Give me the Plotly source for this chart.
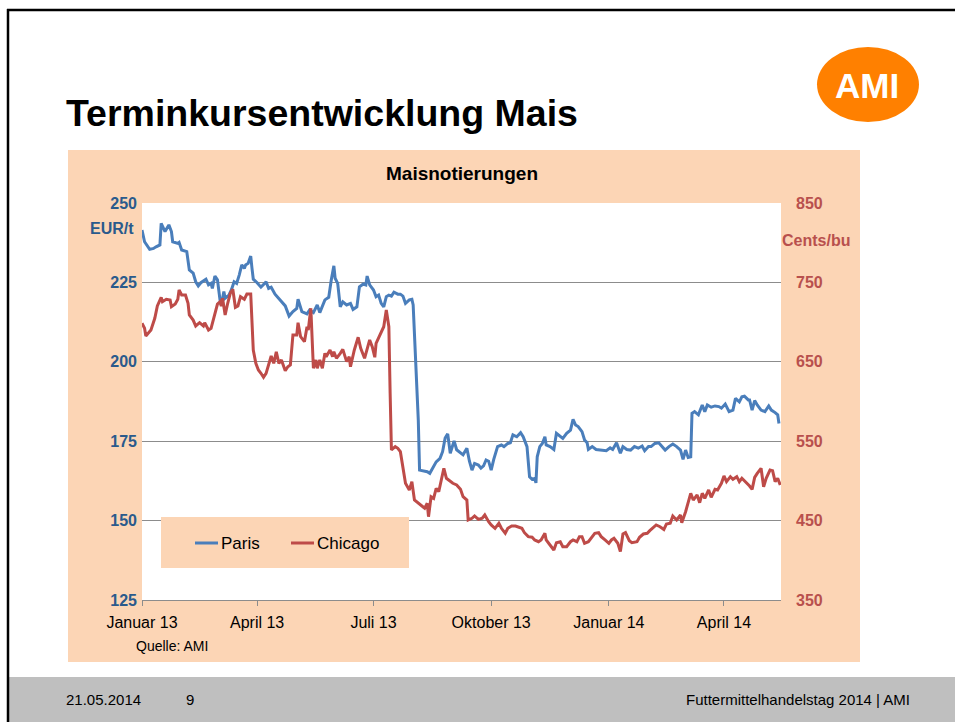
import pandas as pd
import plotly.graph_objects as go

# ---------------- data ----------------
start_date = "2013-01-01"

paris_day = [0, 2, 6, 9, 11, 14, 15, 18, 21, 23, 24, 28, 29, 31, 35, 36, 37, 40, 42, 44,
             46, 50, 52, 54, 55, 57, 59, 61, 62, 64, 65, 68, 70, 72, 74, 76, 78, 80, 81, 83,
             85, 86, 87, 90, 93, 96, 97, 99, 101, 104, 108, 112, 115, 118, 121, 122, 125, 129, 131, 134,
             137, 139, 143, 146, 148, 150, 151, 153, 155, 157, 160, 163, 165, 168, 170, 173, 175, 176, 178, 181,
             183, 185, 187, 189, 191, 193, 195, 197, 200, 202, 204, 206, 209, 211, 212, 214, 216, 217, 220, 223,
             225, 228, 230, 233, 235, 237, 239, 241, 244, 246, 249, 251, 254, 256, 258, 260, 263, 265, 267, 269,
             271, 273, 275, 278, 281, 283, 286, 288, 290, 293, 296, 298, 301, 302, 303, 305, 307, 308, 309, 311,
             313, 315, 316, 319, 322, 324, 327, 329, 332, 335, 337, 339, 341, 344, 346, 348, 349, 352, 355, 359,
             363, 366, 368, 371, 374, 376, 379, 382, 385, 388, 391, 393, 396, 398, 401, 404, 407, 409, 412, 415,
             418, 421, 423, 425, 427, 429, 430, 432, 435, 438, 440, 442, 445, 448, 451, 453, 456, 459, 462, 464,
             467, 469, 471, 474, 475, 477, 479, 481, 484, 487, 490, 492, 495, 497, 498]
paris_eur_t = [241.5, 237.8, 235.4, 235.7, 236.2, 236.8, 243.6, 241.0, 243.1, 241.0, 237.8, 237.3, 237.6, 235.2, 234.7, 231.5, 228.9, 227.9, 225.2, 223.9,
               224.9, 226.0, 224.2, 224.7, 223.1, 227.0, 225.8, 219.5, 217.9, 222.1, 220.0, 221.0, 222.8, 225.2, 224.7, 227.3, 230.5, 229.4, 230.5, 231.0,
               233.3, 229.4, 226.0, 224.9, 223.5, 224.7, 225.2, 223.1, 223.5, 221.3, 219.5, 217.6, 214.4, 215.8, 216.8, 219.7, 215.8, 215.1, 216.3, 215.5,
               217.9, 215.5, 219.5, 220.3, 225.8, 230.2, 226.3, 224.7, 217.3, 218.9, 217.9, 218.4, 216.5, 217.3, 223.6, 224.5, 224.2, 227.0, 224.2, 222.6,
               220.5, 221.0, 218.4, 217.3, 220.5, 221.0, 220.7, 221.9, 221.3, 221.3, 220.7, 218.4, 219.5, 219.7, 217.9, 200.6, 181.7, 165.9, 165.7, 165.4,
               164.9, 166.8, 168.5, 169.6, 171.7, 176.0, 177.3, 171.2, 175.1, 172.3, 171.2, 170.7, 172.8, 168.7, 165.9, 168.0, 167.5, 166.5, 167.2, 169.1,
               168.7, 165.9, 169.3, 173.3, 173.8, 173.3, 174.3, 174.5, 177.0, 176.4, 177.7, 176.4, 173.3, 168.0, 163.8, 163.0, 163.3, 161.9, 170.1, 173.3,
               174.3, 176.4, 173.8, 173.3, 172.4, 177.5, 176.4, 175.9, 177.5, 178.5, 181.9, 180.1, 179.6, 178.0, 175.4, 174.5, 172.4, 173.3, 172.4, 172.2,
               172.0, 172.9, 172.4, 174.5, 171.2, 173.3, 172.4, 172.2, 173.3, 172.8, 173.5, 172.0, 173.3, 173.3, 174.3, 174.5, 173.3, 172.2, 173.3, 174.1,
               173.3, 172.2, 169.3, 172.2, 169.9, 170.1, 183.8, 184.3, 183.3, 186.4, 184.3, 186.4, 185.7, 186.1, 185.9, 185.4, 186.7, 184.3, 184.8, 188.5,
               187.4, 189.0, 189.2, 188.0, 188.0, 184.8, 187.8, 186.4, 184.8, 184.3, 186.1, 184.8, 184.0, 183.3, 180.6]

chicago_day = [0, 2, 3, 7, 10, 12, 15, 16, 19, 22, 23, 26, 28, 29, 31, 34, 36, 37, 40, 42,
               45, 48, 49, 52, 54, 57, 59, 61, 62, 63, 65, 67, 69, 71, 73, 75, 77, 80, 82, 85,
               87, 89, 91, 93, 95, 97, 99, 101, 103, 105, 107, 109, 112, 114, 116, 118, 121, 122, 124, 127,
               129, 130, 132, 134, 136, 137, 139, 141, 143, 144, 147, 149, 150, 152, 155, 157, 160, 162, 163, 166,
               169, 171, 174, 176, 178, 180, 182, 183, 185, 187, 189, 191, 193, 194, 195, 198, 200, 202, 204, 206,
               209, 211, 213, 216, 218, 221, 223, 224, 226, 228, 230, 232, 234, 236, 238, 241, 243, 246, 249, 251,
               254, 255, 258, 260, 263, 266, 268, 271, 273, 276, 279, 281, 284, 286, 289, 292, 294, 297, 299, 302,
               305, 307, 310, 312, 315, 316, 319, 322, 324, 327, 329, 332, 335, 337, 340, 342, 344, 346, 349, 352,
               354, 357, 359, 362, 365, 367, 369, 372, 374, 376, 378, 381, 383, 387, 389, 392, 395, 397, 400, 402,
               405, 408, 410, 413, 415, 418, 421, 422, 425, 427, 429, 431, 434, 436, 438, 440, 443, 445, 448, 450,
               453, 455, 457, 460, 462, 465, 467, 469, 472, 475, 477, 479, 481, 484, 486, 488, 491, 493, 495, 497, 499]
chicago_cents_bu = [698.5, 692.2, 682.5, 690.0, 704.8, 720.3, 731.2, 725.7, 728.7, 727.8, 719.4, 722.8, 728.7, 740.4, 734.1, 734.1, 723.7, 708.9, 702.6, 695.1,
                    699.3, 695.1, 699.3, 690.0, 692.2, 708.9, 722.8, 725.7, 720.3, 730.0, 708.9, 723.7, 736.3, 741.3, 718.6, 720.3, 732.0, 728.7, 735.4, 735.4,
                    664.9, 648.1, 639.7, 635.5, 630.5, 635.5, 648.1, 657.3, 648.1, 662.7, 648.1, 652.3, 638.8, 643.8, 646.0, 683.8, 683.8, 699.3, 681.6, 675.3,
                    694.2, 690.0, 717.4, 641.8, 652.3, 641.8, 652.3, 641.8, 660.7, 656.4, 664.9, 656.4, 662.7, 654.4, 660.7, 665.7, 650.2, 656.4, 643.8, 664.9,
                    680.9, 667.0, 654.4, 667.0, 677.5, 669.0, 655.7, 673.3, 679.6, 687.9, 694.2, 715.2, 694.2, 610.3, 539.0, 543.1, 541.1, 536.8, 517.9, 497.0,
                    488.6, 499.0, 475.9, 471.8, 469.7, 465.5, 471.8, 454.9, 480.1, 478.1, 490.7, 486.4, 501.1, 515.9, 503.3, 499.0, 497.0, 494.9, 489.4, 480.1,
                    475.9, 450.8, 452.9, 455.8, 451.5, 452.9, 457.0, 448.6, 444.5, 440.3, 446.6, 440.3, 434.0, 440.3, 443.2, 443.2, 442.3, 440.3, 434.8, 429.8,
                    429.0, 425.6, 423.4, 425.6, 434.0, 425.6, 419.3, 413.0, 422.2, 423.4, 417.2, 417.2, 423.4, 425.6, 423.4, 429.8, 429.8, 421.4, 423.4, 429.8,
                    434.0, 434.8, 429.8, 425.6, 421.4, 425.6, 427.7, 421.4, 410.9, 433.1, 434.8, 424.7, 422.2, 423.4, 429.0, 433.1, 434.0, 437.3, 442.3, 444.5,
                    442.3, 438.9, 445.7, 446.6, 455.8, 450.8, 457.0, 447.4, 461.2, 473.8, 484.4, 475.9, 482.3, 472.6, 484.4, 478.1, 488.6, 479.3, 489.4, 488.6,
                    497.0, 506.2, 499.0, 505.3, 502.0, 505.3, 499.0, 503.3, 499.0, 493.6, 489.4, 504.5, 509.5, 515.9, 492.7, 503.3, 513.7, 512.9, 499.0, 503.3, 494.9]

tick_dates = ["2013-01-01", "2013-04-01", "2013-07-01", "2013-10-01", "2014-01-01", "2014-04-01"]
tick_labels = ["Januar 13", "April 13", "Juli 13", "Oktober 13", "Januar 14", "April 14"]
x_range = ["2013-01-01", "2014-05-15 14:00"]
left_range = [125, 250]
right_range = [350, 850]

series_names = ["Paris", "Chicago"]

# ---------------- styling ----------------
W, H = 955, 722
PL, PR, PT, PB = 142, 781, 203, 600
FONT = "Liberation Sans, Arial, sans-serif"
BLUE = "#4A7EBB"
RED = "#BE4B48"
BLUE_TXT = "#2A5A8C"
RED_TXT = "#B8504D"
PEACH = "#FCD5B5"
GRID = "#8C8C8C"


def px(x):
    return (x - PL) / (PR - PL)


def py(y):
    return (PB - y) / (PB - PT)


base = pd.Timestamp(start_date)
paris_x = base + pd.to_timedelta(paris_day, unit="D")
chicago_x = base + pd.to_timedelta(chicago_day, unit="D")

fig = go.Figure()
fig.add_trace(go.Scatter(x=paris_x, y=paris_eur_t, name=series_names[0], mode="lines",
                         line=dict(color=BLUE, width=3), yaxis="y"))
fig.add_trace(go.Scatter(x=chicago_x, y=chicago_cents_bu, name=series_names[1], mode="lines",
                         line=dict(color=RED, width=3), yaxis="y2"))

shapes = [
    # chart background box
    dict(type="rect", xref="paper", yref="paper", x0=px(68), x1=px(860), y0=py(662), y1=py(150),
         fillcolor=PEACH, line=dict(width=0), layer="below"),
    # plot area
    dict(type="rect", xref="paper", yref="paper", x0=0, x1=1, y0=0, y1=1,
         fillcolor="white", line=dict(width=0), layer="below"),
    # footer band
    dict(type="rect", xref="paper", yref="paper", x0=px(9), x1=px(956), y0=py(723), y1=py(677),
         fillcolor="#BFBFBF", line=dict(width=0), layer="below"),
    # slide frame
    dict(type="line", xref="paper", yref="paper", x0=px(7), x1=px(956), y0=py(10), y1=py(10),
         line=dict(color="black", width=2.5), layer="above"),
    dict(type="line", xref="paper", yref="paper", x0=px(8), x1=px(8), y0=py(9), y1=py(723),
         line=dict(color="black", width=2.5), layer="above"),
    # logo
    dict(type="circle", xref="paper", yref="paper", x0=px(817), x1=px(919), y0=py(122), y1=py(47),
         fillcolor="#FF8000", line=dict(width=0)),
    # legend box
    dict(type="rect", xref="paper", yref="paper", x0=px(161), x1=px(409), y0=py(568), y1=py(517),
         fillcolor=PEACH, line=dict(width=0), layer="above"),
    dict(type="line", xref="paper", yref="paper", x0=px(195), x1=px(218), y0=py(543), y1=py(543),
         line=dict(color=BLUE, width=3), layer="above"),
    dict(type="line", xref="paper", yref="paper", x0=px(291), x1=px(314), y0=py(543), y1=py(543),
         line=dict(color=RED, width=3), layer="above"),
]


def ann(text, x, y, size, color="black", bold=False, xanchor="center"):
    return dict(text=f"<b>{text}</b>" if bold else text, xref="paper", yref="paper",
                x=px(x), y=py(y), xanchor=xanchor, yanchor="middle", showarrow=False,
                font=dict(family=FONT, size=size, color=color))


annotations = [
    ann("Terminkursentwicklung Mais", 64, 113, 37.5, bold=True, xanchor="left"),
    ann("Maisnotierungen", 462, 173, 19, bold=True),
    ann("EUR/t", 112, 228, 16, color=BLUE_TXT, bold=True),
    ann("Cents/bu", 816, 240, 16, color=RED_TXT, bold=True),
    ann("Quelle: AMI", 134, 646, 14, xanchor="left"),
    ann("AMI", 867, 85, 35, color="white", bold=True),
    ann(series_names[0], 219, 543, 17, xanchor="left"),
    ann(series_names[1], 315, 543, 17, xanchor="left"),
    ann("21.05.2014", 64, 699, 15, xanchor="left"),
    ann("9", 184, 699, 15, xanchor="left"),
    ann("Futtermittelhandelstag 2014 | AMI", 912, 699, 15, xanchor="right"),
]

fig.update_layout(
    width=W, height=H,
    margin=dict(l=PL, r=W - PR, t=PT, b=H - PB, pad=0),
    paper_bgcolor="white",
    plot_bgcolor="rgba(0,0,0,0)",
    showlegend=False,
    font=dict(family=FONT, color="black"),
    shapes=shapes,
    annotations=annotations,
    xaxis=dict(
        type="date", range=x_range, tickvals=tick_dates, ticktext=tick_labels,
        showgrid=False, showline=True, linecolor=GRID, linewidth=1,
        ticks="outside", ticklen=5, tickcolor=GRID, tickwidth=1,
        tickfont=dict(family=FONT, size=16, color="black"), ticklabelstandoff=3,
        zeroline=False,
    ),
    yaxis=dict(
        range=left_range, tick0=125, dtick=25, showgrid=True, gridcolor=GRID, gridwidth=1,
        showline=False, zeroline=False, ticks="",
        tickfont=dict(family=FONT, size=16, color=BLUE_TXT, weight="bold"),
        ticklabelstandoff=4,
    ),
    yaxis2=dict(
        range=right_range, tick0=350, dtick=100, overlaying="y", side="right",
        showgrid=False, showline=False, zeroline=False, ticks="",
        tickfont=dict(family=FONT, size=16, color=RED_TXT, weight="bold"),
        ticklabelstandoff=14,
    ),
)

fig.write_html("out.html", config={"displayModeBar": False},
               post_script="document.body.style.margin='0';")
